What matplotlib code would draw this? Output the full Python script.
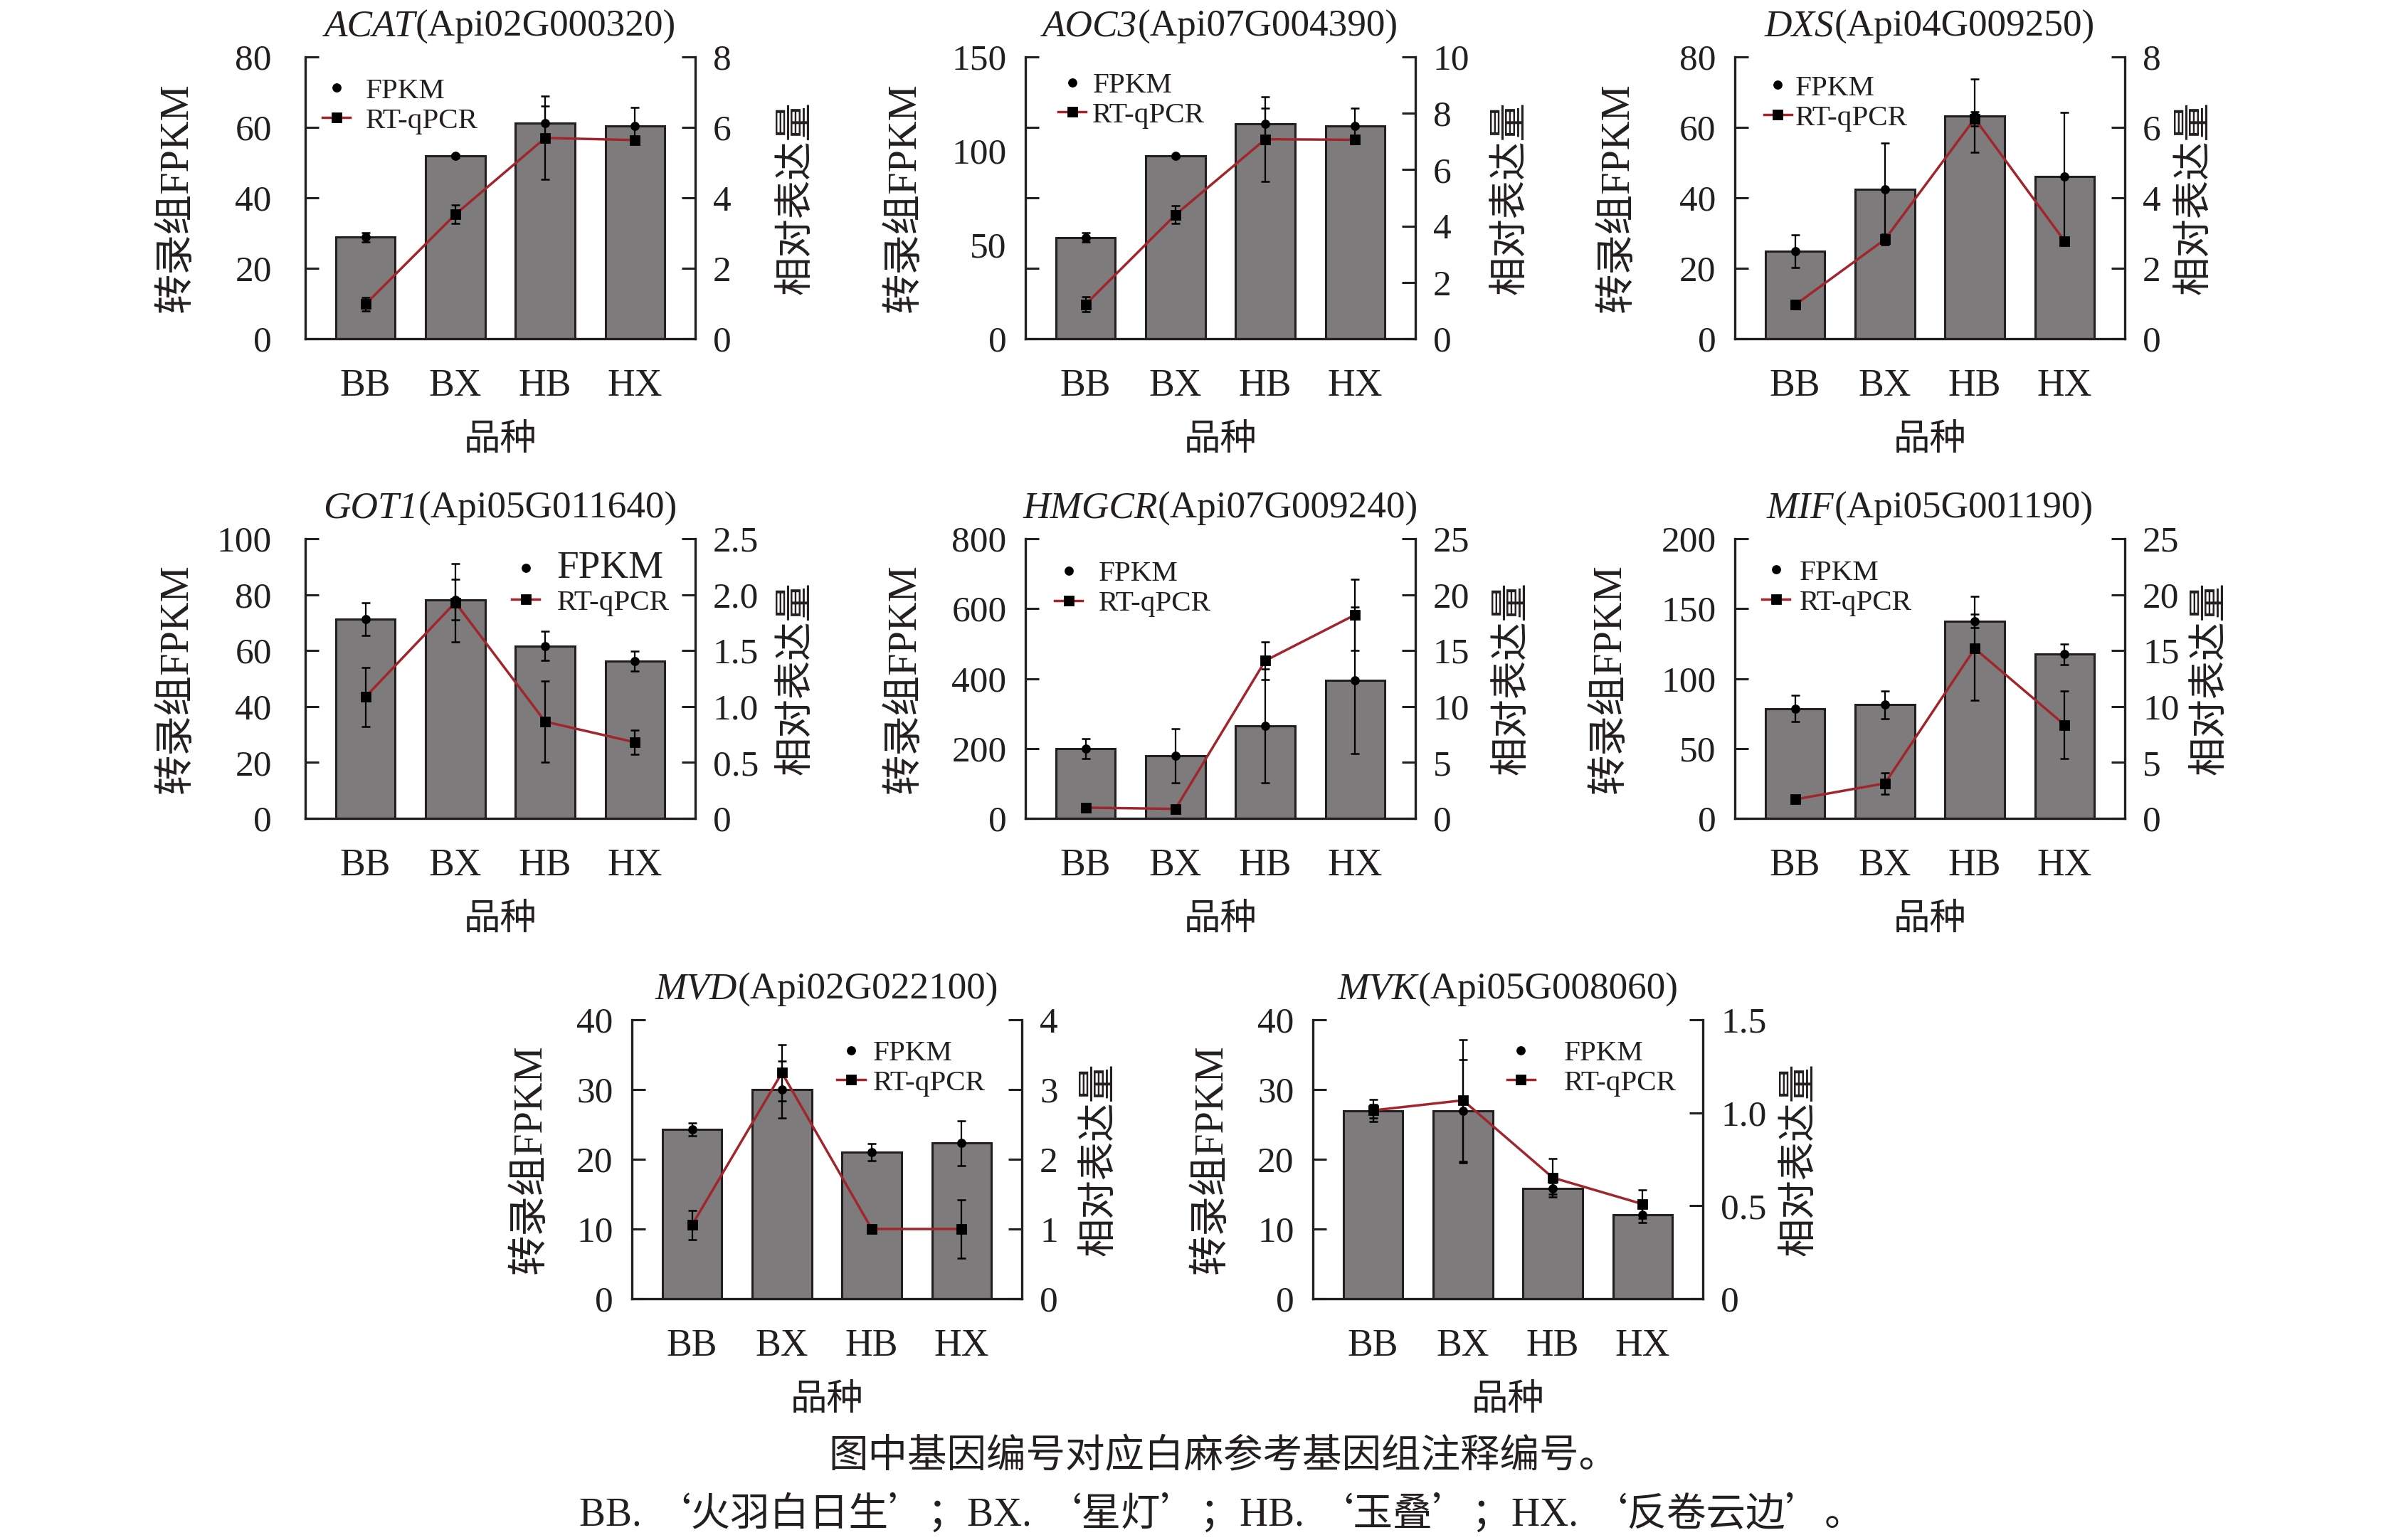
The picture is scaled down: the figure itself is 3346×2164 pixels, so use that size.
import matplotlib
matplotlib.use('Agg')
import matplotlib.pyplot as plt
from matplotlib.lines import Line2D
from matplotlib.offsetbox import TextArea, HPacker, AnchoredOffsetbox
import numpy as np

plt.rcParams['font.family'] = ['Liberation Serif', 'Noto Sans CJK SC', 'DejaVu Sans']

# ---------------- data ----------------
cultivars = ['BB', 'BX', 'HB', 'HX']

genes = ['ACAT', 'AOC3', 'DXS', 'GOT1', 'HMGCR', 'MIF', 'MVD', 'MVK']
gene_ids = ['Api02G000320', 'Api07G004390', 'Api04G009250', 'Api05G011640',
            'Api07G009240', 'Api05G001190', 'Api02G022100', 'Api05G008060']

ACAT_fpkm = [28.8, 51.9, 61.3, 60.5]
ACAT_fpkm_err = [1.3, 0.4, 4.7, 5.2]
ACAT_qpcr = [0.98, 3.53, 5.70, 5.64]
ACAT_qpcr_err = [0.20, 0.26, 1.18, 0.05]

AOC3_fpkm = [53.9, 97.3, 114.5, 113.4]
AOC3_fpkm_err = [2.5, 0.6, 8.4, 9.5]
AOC3_qpcr = [1.22, 4.40, 7.08, 7.06]
AOC3_qpcr_err = [0.27, 0.31, 1.50, 0.05]

DXS_fpkm = [24.9, 42.4, 63.3, 46.1]
DXS_fpkm_err = [4.6, 13.2, 10.4, 18.2]
DXS_qpcr = [0.96, 2.82, 6.25, 2.77]
DXS_qpcr_err = [0.05, 0.15, 0.20, 0.05]

GOT1_fpkm = [71.2, 78.2, 61.7, 56.2]
GOT1_fpkm_err = [5.9, 7.2, 5.1, 3.5]
GOT1_qpcr = [1.086, 1.93, 0.865, 0.68]
GOT1_qpcr_err = [0.265, 0.35, 0.365, 0.11]

HMGCR_fpkm = [200, 179, 264, 395]
HMGCR_fpkm_err = [28, 77, 163, 209]
HMGCR_qpcr = [0.96, 0.85, 14.1, 18.2]
HMGCR_qpcr_err = [0.1, 0.1, 1.68, 3.2]

MIF_fpkm = [78.6, 81.3, 141.2, 117.4]
MIF_fpkm_err = [9.2, 10.0, 5.0, 7.4]
MIF_qpcr = [1.70, 3.13, 15.18, 8.36]
MIF_qpcr_err = [0.1, 0.95, 4.64, 3.04]

MVD_fpkm = [24.3, 30.0, 21.0, 22.3]
MVD_fpkm_err = [0.9, 4.1, 1.25, 3.2]
MVD_qpcr = [1.06, 3.24, 1.0, 1.0]
MVD_qpcr_err = [0.21, 0.40, 0.05, 0.42]

MVK_fpkm = [26.9, 26.9, 15.8, 12.0]
MVK_fpkm_err = [1.0, 7.4, 0.8, 1.1]
MVK_qpcr = [1.013, 1.067, 0.651, 0.509]
MVK_qpcr_err = [0.059, 0.327, 0.102, 0.075]

# axis scales and tick labels
left_max = [80, 150, 80, 100, 800, 200, 40, 40]
left_tick_marks = [[0, 20, 40, 60, 80], [0, 37.5, 75, 112.5, 150], [0, 20, 40, 60, 80],
                   [0, 20, 40, 60, 80, 100], [0, 200, 400, 600, 800], [0, 50, 100, 150, 200],
                   [0, 10, 20, 30, 40], [0, 10, 20, 30, 40]]
left_tick_values = [[0, 20, 40, 60, 80], [0, 50, 100, 150], [0, 20, 40, 60, 80],
                    [0, 20, 40, 60, 80, 100], [0, 200, 400, 600, 800], [0, 50, 100, 150, 200],
                    [0, 10, 20, 30, 40], [0, 10, 20, 30, 40]]
right_max = [8, 10, 8, 2.5, 25, 25, 4, 1.5]
right_tick_values = [[0, 2, 4, 6, 8], [0, 2, 4, 6, 8, 10], [0, 2, 4, 6, 8],
                     [0, 0.5, 1.0, 1.5, 2.0, 2.5], [0, 5, 10, 15, 20, 25], [0, 5, 10, 15, 20, 25],
                     [0, 1, 2, 3, 4], [0, 0.5, 1.0, 1.5]]
right_tick_labels = [['0', '2', '4', '6', '8'], ['0', '2', '4', '6', '8', '10'], ['0', '2', '4', '6', '8'],
                     ['0', '0.5', '1.0', '1.5', '2.0', '2.5'], ['0', '5', '10', '15', '20', '25'],
                     ['0', '5', '10', '15', '20', '25'], ['0', '1', '2', '3', '4'], ['0', '0.5', '1.0', '1.5']]

fpkm_all = [ACAT_fpkm, AOC3_fpkm, DXS_fpkm, GOT1_fpkm, HMGCR_fpkm, MIF_fpkm, MVD_fpkm, MVK_fpkm]
fpkm_err_all = [ACAT_fpkm_err, AOC3_fpkm_err, DXS_fpkm_err, GOT1_fpkm_err, HMGCR_fpkm_err,
                MIF_fpkm_err, MVD_fpkm_err, MVK_fpkm_err]
qpcr_all = [ACAT_qpcr, AOC3_qpcr, DXS_qpcr, GOT1_qpcr, HMGCR_qpcr, MIF_qpcr, MVD_qpcr, MVK_qpcr]
qpcr_err_all = [ACAT_qpcr_err, AOC3_qpcr_err, DXS_qpcr_err, GOT1_qpcr_err, HMGCR_qpcr_err,
                MIF_qpcr_err, MVD_qpcr_err, MVK_qpcr_err]

caption1 = '图中基因编号对应白麻参考基因组注释编号。'
caption2_codes = ['BB.', 'BX.', 'HB.', 'HX.']
caption2_names = ['‘火羽白日生’；', '‘星灯’；', '‘玉叠’；', '‘反卷云边’。']

# ---------------- layout ----------------
W, H = 3346, 2164
fig = plt.figure(figsize=(W / 200, H / 200), dpi=200)

TXT_C = '#231f20'
# axes boxes in pixels: (left, top, right, bottom)
boxes = [(429, 80, 977, 476), (1441, 80, 1989, 476), (2438, 80, 2986, 476),
         (429, 757, 977, 1150), (1441, 757, 1989, 1150), (2438, 757, 2986, 1150),
         (888, 1433, 1436, 1825), (1845, 1433, 2393, 1825)]
ylab_left_x = [-0.33, -0.31, -0.30, -0.33, -0.31, -0.32, -0.26, -0.26]
ylab_right_x = [1.26, 1.246, 1.18, 1.26, 1.25, 1.22, 1.20, 1.25]
left_pad = [17, 9.5, 9.5, 17, 9.5, 9.5, 9.5, 9.5]
# legend: handle centre x, row1 y, row2 y, handletextpad
leg_pos = [(0.08, 0.89, 0.763, 0.53), (0.12, 0.914, 0.778, 0.22), (0.11, 0.90, 0.773, 0.13),
           (0.565, 0.913, 0.768, 0.59), (0.111, 0.885, 0.758, 0.55), (0.105, 0.89, 0.76, 0.34),
           (0.562, 0.895, 0.758, 0.27), (0.533, 0.895, 0.758, 1.0)]

BAR_C = '#7d7b7c'
EDGE_C = '#231f20'
LINE_C = '#a0262c'
TICK_FS = 18.5
XT_FS = 19.3
LAB_FS = 20.3
RLAB_FS = 19.6
LEG_FS = 14.8
TITLE_FS = 19.2

x = np.arange(len(cultivars))

for i in range(8):
    l, t, r, b = boxes[i]
    ax = fig.add_axes([l / W, 1 - b / H, (r - l) / W, (b - t) / H])
    ax2 = ax.twinx()
    ax.set_zorder(1)
    ax2.set_zorder(2)
    ax.patch.set_visible(False)
    ax2.patch.set_visible(False)

    ax.bar(x, fpkm_all[i], width=0.66, color=BAR_C, edgecolor=EDGE_C, linewidth=1.1, zorder=2)
    ax.errorbar(x, fpkm_all[i], yerr=fpkm_err_all[i], fmt='o', color='black', ms=3.6,
                elinewidth=0.8, capsize=2.1, capthick=0.9, zorder=3)
    ax2.errorbar(x, qpcr_all[i], yerr=qpcr_err_all[i], fmt='none', ecolor='black',
                 elinewidth=0.8, capsize=2.1, capthick=0.9, zorder=3)
    ax2.plot(x, qpcr_all[i], color=LINE_C, lw=1.25, marker='s', ms=4.2, mfc='black',
             mec='black', zorder=4)

    ax.set_xlim(-0.67, 3.67)
    ax.set_ylim(0, left_max[i])
    ax2.set_ylim(0, right_max[i])

    ax.set_xticks(x, cultivars)
    ax.tick_params(axis='x', length=0, pad=15, labelsize=XT_FS, colors=TXT_C)

    ax.yaxis.remove_overlapping_locs = False
    ax.set_yticks(left_tick_marks[i], [''] * len(left_tick_marks[i]))
    ax.set_yticks(left_tick_values[i], [f'{v:g}' for v in left_tick_values[i]], minor=True)
    ax.tick_params(axis='y', which='major', direction='in', length=7, width=1.1, color=EDGE_C)
    ax.tick_params(axis='y', which='minor', length=0, pad=left_pad[i], labelsize=TICK_FS,
                   labelcolor=TXT_C)

    ax2.set_yticks(right_tick_values[i], right_tick_labels[i])
    ax2.tick_params(axis='y', direction='in', length=7, width=1.1, color=EDGE_C, pad=9,
                    labelsize=TICK_FS, labelcolor=TXT_C)

    for a in (ax, ax2):
        a.spines['top'].set_visible(False)
    ax2.spines['left'].set_visible(False)
    ax2.spines['bottom'].set_visible(False)
    for s in ('left', 'bottom'):
        ax.spines[s].set_linewidth(1.2)
        ax.spines[s].set_color(EDGE_C)
    ax.spines['right'].set_visible(False)
    ax2.spines['right'].set_linewidth(1.2)
    ax2.spines['right'].set_color(EDGE_C)

    # title: italic gene symbol + upright gene id
    ta1 = TextArea(genes[i], textprops=dict(fontsize=TITLE_FS, fontstyle='italic', color=TXT_C))
    ta2 = TextArea('(' + gene_ids[i] + ')', textprops=dict(fontsize=TITLE_FS, color=TXT_C))
    tbox = HPacker(children=[ta1, ta2], align='baseline', pad=0, sep=0)
    ab = AnchoredOffsetbox(loc='lower center', child=tbox, pad=0, borderpad=0, frameon=False,
                           bbox_to_anchor=(0.5, 1 + 18 / (b - t)), bbox_transform=ax.transAxes)
    ax2.add_artist(ab)

    ax.set_xlabel('品种', fontsize=18.5, labelpad=10, color=TXT_C)
    ax.set_ylabel('转录组FPKM', fontsize=LAB_FS, color=TXT_C, va='center', ha='center')
    ax.yaxis.set_label_coords(ylab_left_x[i], 0.5)
    ax2.set_ylabel('相对表达量', fontsize=RLAB_FS, color=TXT_C, rotation=90,
                   va='center', ha='center')
    ax2.yaxis.set_label_coords(ylab_right_x[i], 0.5)

    hx, y1, y2, htp = leg_pos[i]
    handles = [Line2D([], [], ls='none', marker='o', ms=3.6, color='black'),
               Line2D([], [], color=LINE_C, lw=1.25, marker='s', ms=4.2, mfc='black', mec='black')]
    hl = 0.95
    hl_frac = hl * LEG_FS / 72 * 200 / (r - l)
    leg = ax2.legend(handles, ['FPKM', 'RT-qPCR'], loc='center left',
                     bbox_to_anchor=(hx - hl_frac / 2, (y1 + y2) / 2), frameon=False,
                     fontsize=LEG_FS, handlelength=hl, handletextpad=htp, borderpad=0,
                     borderaxespad=0, labelspacing=0.1)
    for txt in leg.get_texts():
        txt.set_color(TXT_C)
    if genes[i] == 'GOT1':
        leg.get_texts()[0].set_fontsize(19.8)

# caption
CAP_FS = 20
fig.text(1719 / W, 1 - 2046 / H, caption1, ha='center', va='center', fontsize=CAP_FS, color=TXT_C,
         family=['Noto Sans CJK SC', 'DejaVu Sans'])
parts = []
for code, name in zip(caption2_codes, caption2_names):
    parts.append(TextArea(code + ' ', textprops=dict(fontsize=CAP_FS, color=TXT_C,
                                                     family=['Liberation Serif'])))
    parts.append(TextArea(name, textprops=dict(fontsize=CAP_FS, color=TXT_C,
                                               family=['Noto Sans CJK SC', 'DejaVu Sans'])))
cbox = HPacker(children=parts, align='baseline', pad=0, sep=0)
cab = AnchoredOffsetbox(loc='center', child=cbox, pad=0, borderpad=0, frameon=False,
                        bbox_to_anchor=(1717 / W, 1 - 2128 / H), bbox_transform=fig.transFigure)
fig.add_artist(cab)

fig.savefig('out.png', dpi=200)
